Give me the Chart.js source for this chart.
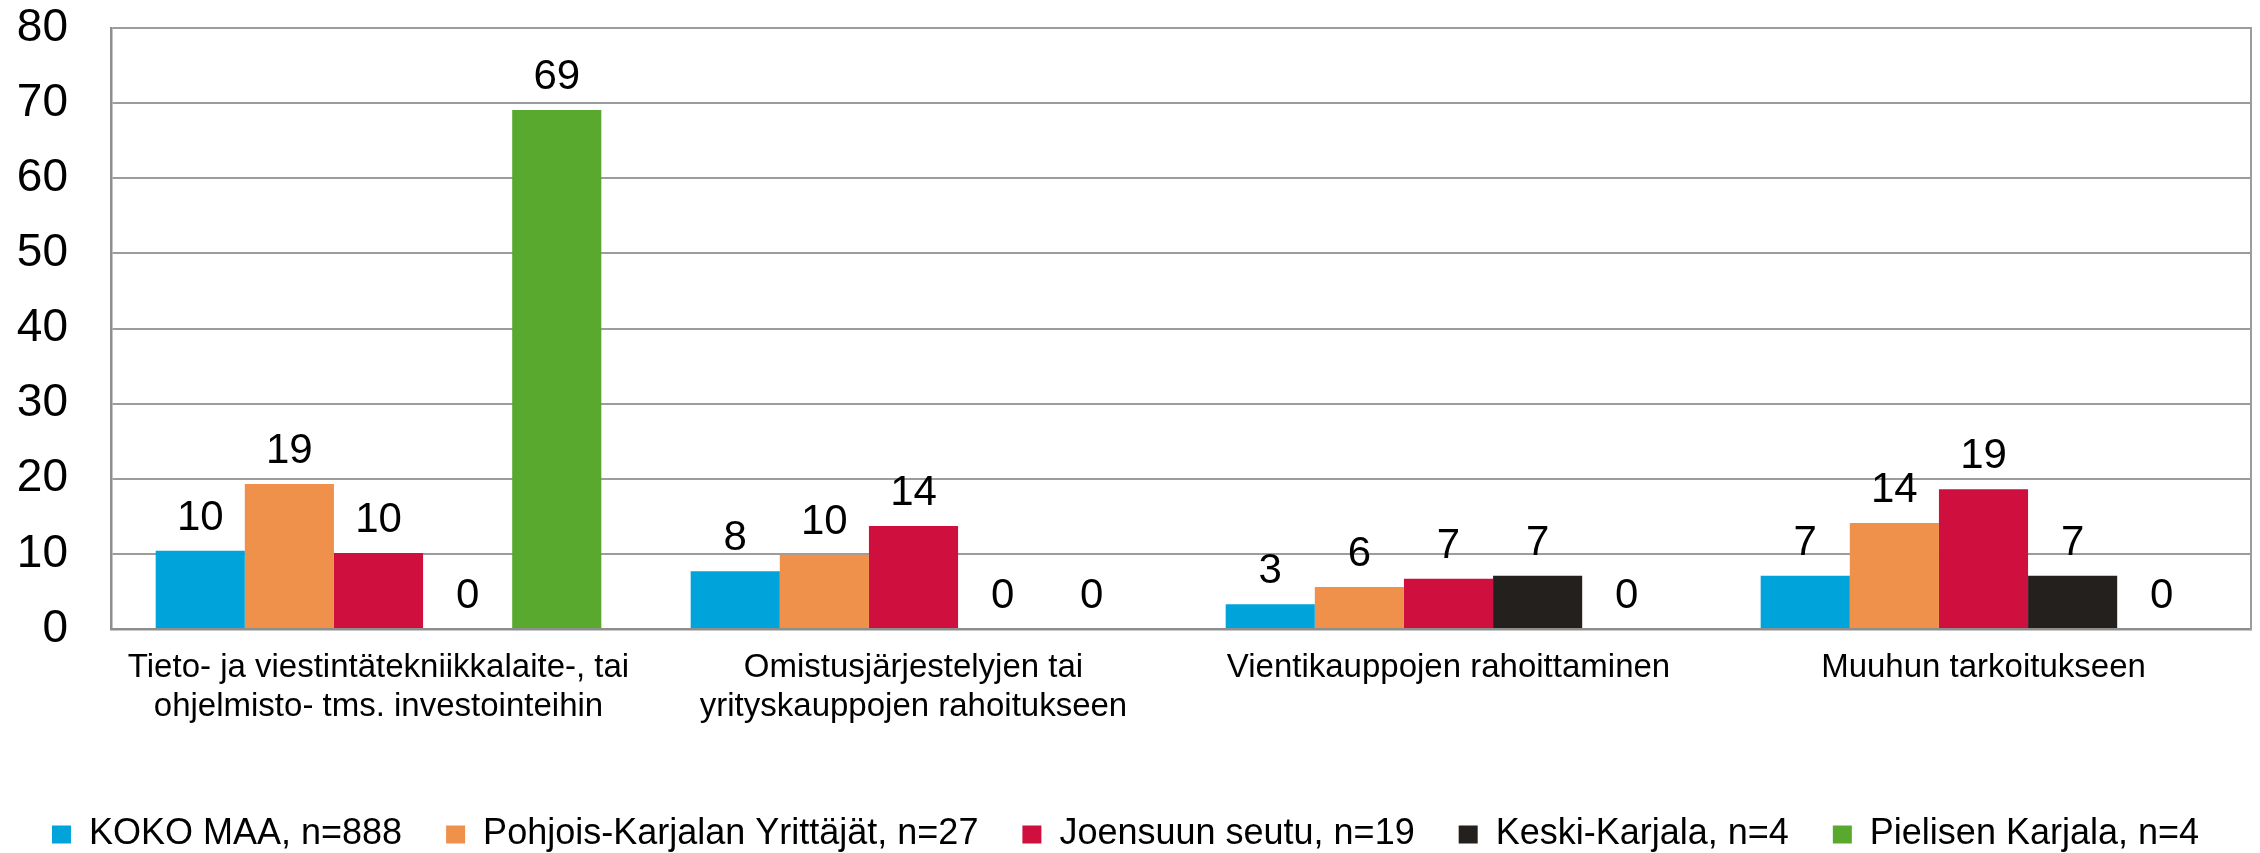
<!DOCTYPE html>
<html>
<head>
<meta charset="utf-8">
<script src="https://cdn.jsdelivr.net/npm/chart.js@4/dist/chart.umd.min.js"></script>
<style>
  html, body { margin: 0; padding: 0; background: #fff; }
  #wrap { width: 2260px; height: 853px; }
</style>
</head>
<body>
<div id="wrap"><canvas id="kaavio"></canvas></div>
<script>
const kategoriat = [
    ["Tieto- ja viestintätekniikkalaite-, tai", "ohjelmisto- tms. investointeihin"],
    ["Omistusjärjestelyjen tai", "yrityskauppojen rahoitukseen"],
    "Vientikauppojen rahoittaminen",
    "Muuhun tarkoitukseen"
];
const sarjat = [
    "KOKO MAA, n=888",
    "Pohjois-Karjalan Yrittäjät, n=27",
    "Joensuun seutu, n=19",
    "Keski-Karjala, n=4",
    "Pielisen Karjala, n=4"
];
const kokoMaa = [10.4, 7.7, 3.3, 7.1];
const pohjoisKarjala = [19.3, 9.9, 5.6, 14.1];
const joensuu = [10.1, 13.7, 6.7, 18.6];
const keskiKarjala = [0, 0, 7.1, 7.1];
const pielinen = [69.1, 0, 0, 0];
const yTicks = [0, 10, 20, 30, 40, 50, 60, 70, 80];

const varit = ["#00a3da", "#f0914b", "#cf0f3e", "#23201d", "#58a92e"];
const arvot = [kokoMaa, pohjoisKarjala, joensuu, keskiKarjala, pielinen];
const fontti = "'Liberation Sans', Arial, sans-serif";
const harmaa = "#9c9c9c";
const akseli = "#8e8e8e";

// arvot palkkien päälle
const arvoPlugin = {
    id: "arvot",
    afterDatasetsDraw(chart) {
        const ctx = chart.ctx;
        ctx.save();
        ctx.font = "42px " + fontti;
        ctx.fillStyle = "#000";
        ctx.textAlign = "center";
        ctx.textBaseline = "alphabetic";
        chart.data.datasets.forEach((ds, i) => {
            chart.getDatasetMeta(i).data.forEach((bar, j) => {
                ctx.fillText(String(Math.round(ds.data[j])), bar.x, bar.y - 21);
            });
        });
        ctx.restore();
    }
};

new Chart(document.getElementById("kaavio").getContext("2d"), {
    type: "bar",
    data: {
        labels: kategoriat,
        datasets: sarjat.map((nimi, i) => ({
            label: nimi,
            data: arvot[i],
            backgroundColor: varit[i],
            categoryPercentage: 0.833,
            barPercentage: 1.0
        }))
    },
    options: {
        responsive: true,
        maintainAspectRatio: false,
        animation: false,
        layout: { padding: { top: 28, right: 9, left: 0, bottom: -9.5 } },
        plugins: {
            tooltip: { enabled: false },
            legend: {
                position: "bottom",
                labels: {
                    font: { family: fontti, size: 36 },
                    color: "#000",
                    boxWidth: 19,
                    boxHeight: 18,
                    padding: 44
                }
            }
        },
        scales: {
            x: {
                grid: { display: false },
                border: { display: true, color: akseli, width: 2.5 },
                ticks: {
                    color: "#000",
                    font: { family: fontti, size: 33 },
                    padding: 11,
                    maxRotation: 0,
                    autoSkip: false
                },
                afterFit(scale) { scale.height = 143.5; }
            },
            y: {
                min: 0,
                max: 80,
                afterBuildTicks(scale) { scale.ticks = yTicks.map(v => ({ value: v })); },
                grid: { color: harmaa, lineWidth: 2, drawTicks: false },
                border: { display: true, color: akseli, width: 2.5 },
                ticks: {
                    color: "#000",
                    font: { family: fontti, size: 46 },
                    padding: 43
                },
                afterFit(scale) {
                    scale.width = 111;
                    scale.paddingTop = 0;
                    scale.paddingBottom = 0;
                }
            },
            y2: {
                position: "right",
                min: 0,
                max: 80,
                grid: { display: false },
                border: { display: true, color: harmaa, width: 2 },
                ticks: { display: false },
                afterFit(scale) {
                    scale.width = 0;
                    scale.paddingTop = 0;
                    scale.paddingBottom = 0;
                }
            }
        }
    },
    plugins: [arvoPlugin]
});
</script>
</body>
</html>
